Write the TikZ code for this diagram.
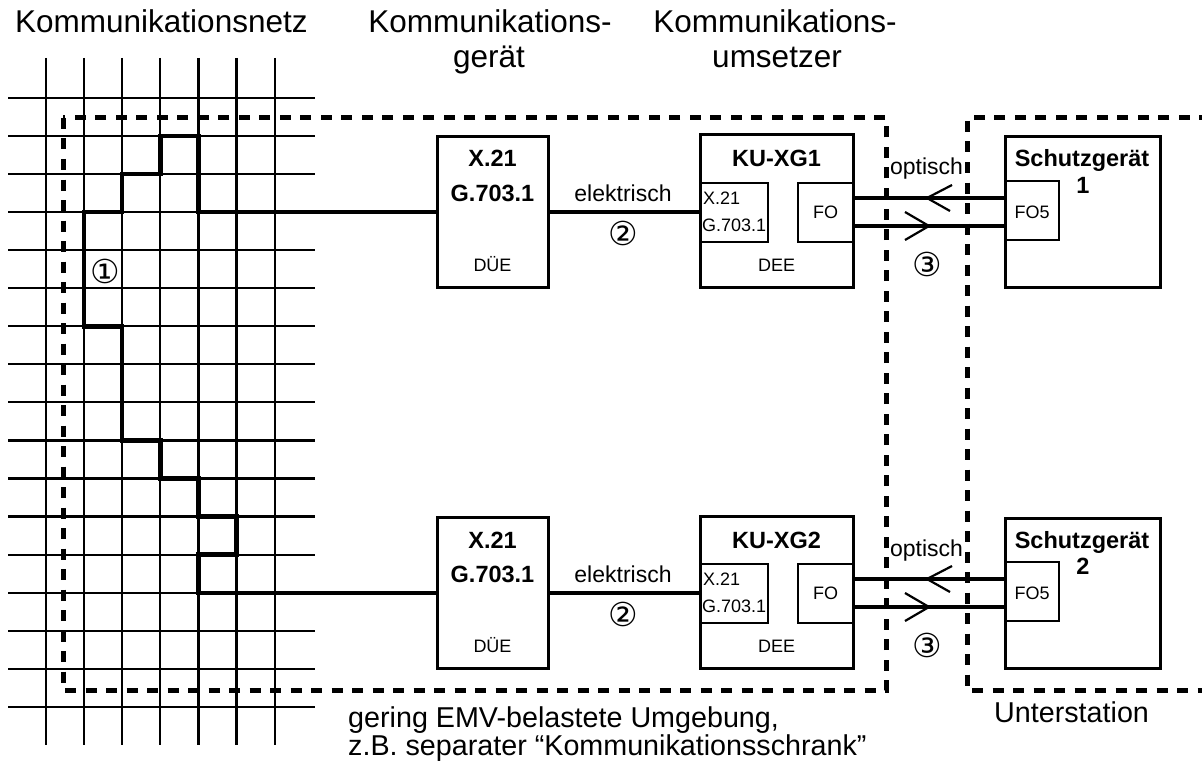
\documentclass[tikz,border=0pt]{standalone}
\usepackage{fontspec}
\setmainfont{Liberation Sans}
\newfontfamily\dejavu{DejaVu Sans}
\begin{document}
\begin{tikzpicture}[x=1pt,y=-1pt,
  gridline/.style={line width=2.2pt},
  netpath/.style={line width=4.5pt, line join=miter},
  boxst/.style={draw, line width=3pt, inner sep=0pt, outer sep=0pt},
  inbox/.style={draw, line width=2.5pt, inner sep=0pt, outer sep=0pt},
  dashbox/.style={line width=5pt, dash pattern=on 11pt off 9.5pt},
  wire/.style={line width=4pt},
  chev/.style={line width=2.2pt},
  head/.style={inner sep=0pt, anchor=base, font=\fontsize{31.5}{35}\selectfont},
  foot/.style={inner sep=0pt, anchor=base west, font=\fontsize{28.7}{30}\selectfont},
  bold/.style={inner sep=0pt, anchor=base, font=\fontsize{23.5}{26}\selectfont\bfseries},
  mid/.style={inner sep=0pt, anchor=base, font=\fontsize{23}{26}\selectfont},
  small/.style={inner sep=0pt, anchor=base, font=\fontsize{18}{20}\selectfont},
  circ/.style={inner sep=0pt, anchor=center, font=\fontsize{33}{35}\dejavu}
]
\useasboundingbox (0,0) rectangle (1202,765);

% grid
\foreach \k in {0,...,16} {
  \draw[gridline] (8,{97.9+38.06*\k}) -- (315,{97.9+38.06*\k});
}
\foreach \j in {0,...,6} {
  \draw[gridline] ({46+38.1*\j},58) -- ({46+38.1*\j},745);
}

% dashed areas
\draw[dashbox] (63,118) rectangle (886,690);
\draw[dashbox] (1210,118) -- (967,118) -- (967,690) -- (1210,690);

% headers
\node[head, anchor=base west] (hnetz) at (15,33) {Kommunikationsnetz};
\node[head] (hgeraet1) at (490,33) {Kommunikations-};
\node[head] (hgeraet2) at (489,68) {gerät};
\node[head] (humset1) at (775,33) {Kommunikations-};
\node[head] (humset2) at (777,68) {umsetzer};

% row boxes
\foreach \r/\dy/\n in {1/0/1, 2/381/2} {
  \begin{scope}[yshift={-\dy pt}]
  \node[boxst, minimum width=111pt, minimum height=151pt] (DUE\r) at (492.5,212) {};
  \node[bold] (DUEa\r) at (492.5,167) {X.21};
  \node[bold] (DUEb\r) at (492.5,201.5) {G.703.1};
  \node[small] (DUEc\r) at (492.5,271.5) {DÜE};

  \node[boxst, minimum width=153pt, minimum height=152pt] (KU\r) at (776.5,211) {};
  \node[bold] (KUt\r) at (776.5,167) {KU-XG\n};
  \node[inbox, minimum width=68pt, minimum height=59pt] (KUX\r) at (734,212.5) {};
  \node[small, anchor=base west] (KUXa\r) at (703,204) {X.21};
  \node[small, anchor=base west] (KUXb\r) at (702,231.5) {G.703.1};
  \node[inbox, minimum width=55pt, minimum height=59pt] (FO\r) at (825.5,212.5) {};
  \node[small] (FOt\r) at (825.5,218) {FO};
  \node[small] (DEE\r) at (776.5,271.5) {DEE};

  \node[boxst, minimum width=155pt, minimum height=150pt] (SG\r) at (1082.5,212) {};
  \node[bold] (SGt\r) at (1082,167) {Schutzgerät};
  \node[bold] (SGn\r) at (1083,193.5) {\n};
  \node[inbox, minimum width=54pt, minimum height=59pt] (SGFO\r) at (1032,210.5) {};
  \node[small] (SGFOt\r) at (1032,218) {FO5};

  % electrical link
  \draw[wire] (DUE\r.east |- 0,212) -- (KUX\r.west |- 0,212);
  \node[mid] (el\r) at (623,201.5) {elektrisch};
  \node[circ] (c2\r) at (623,233) {②};

  % optical links
  \draw[wire] (FO\r.east |- 0,198) coordinate (oa\r) -- (SGFO\r.west |- 0,198) coordinate (ob\r);
  \draw[wire] (FO\r.east |- 0,226) coordinate (oc\r) -- (SGFO\r.west |- 0,226) coordinate (od\r);
  \coordinate (tipA\r) at (927,198);
  \coordinate (tipB\r) at (929,226);
  \draw[chev] (952,185) -- (tipA\r) -- (950,211);
  \draw[chev] (905,212) -- (tipB\r) -- (905,240);
  \node[mid] (opt\r) at (926.5,175) {optisch};
  \node[circ] (c3\r) at (927,264) {③};
  \end{scope}
}

% network paths
\draw[netpath] (DUE1.west |- 0,212) -- (198.4,212)
  -- (198.4,136) -- (160.3,136) -- (160.3,174.1) -- (122.2,174.1)
  -- (122.2,212) -- (84.1,212) -- (84.1,326.3) -- (122.2,326.3)
  -- (122.2,440.4) -- (160.3,440.4) -- (160.3,478.5) -- (198.4,478.5)
  -- (198.4,516.5) -- (236.5,516.5) -- (236.5,554.6) -- (198.4,554.6)
  -- (198.4,593) -- (DUE2.west |- 0,593);
\node[circ] (c1) at (105,271.5) {①};

% footers
\node[foot] (f1) at (348,727) {gering EMV-belastete Umgebung,};
\node[foot] (f2) at (348,755) {z.B. separater “Kommunikationsschrank”};
\node[foot] (f3) at (994,722) {Unterstation};
\end{tikzpicture}
\end{document}
